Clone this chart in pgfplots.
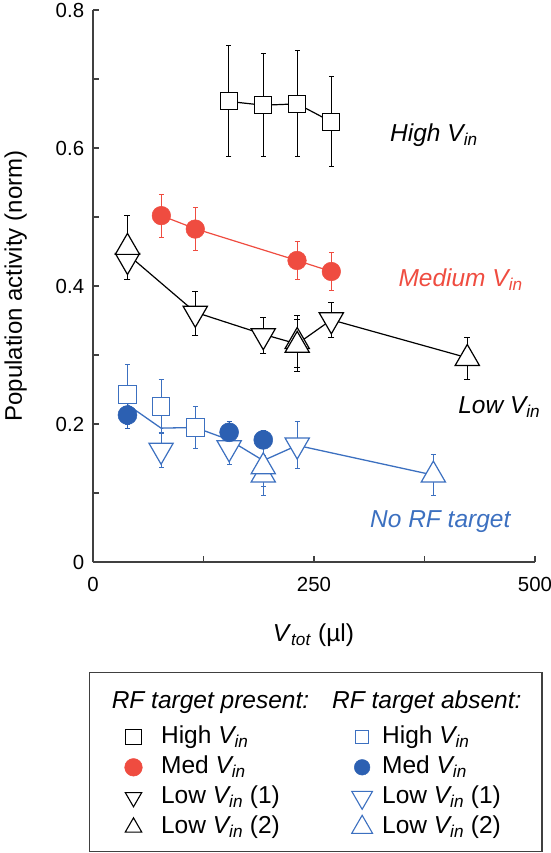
\documentclass[border=0pt]{standalone}
\usepackage{pgfplots}
\pgfplotsset{compat=1.18}
\usepackage{fontspec}
\setmainfont{Liberation Sans}
\definecolor{myred}{RGB}{239,76,64}
\definecolor{myblue}{RGB}{60,112,192}
\definecolor{myblueD}{RGB}{44,96,178}
\definecolor{axgray}{RGB}{64,64,64}
\newcommand{\Vin}{\textit{V\textsubscript{in}}}
\newcommand{\ls}{\rule[-6bp]{0pt}{24bp}}
\begin{document}
\begin{tikzpicture}
\useasboundingbox (-93bp,-291bp) rectangle (458bp,562bp);
\begin{axis}[
  scale only axis, width=442bp, height=552bp,
  at={(0,0)}, anchor=south west,
  xmin=0, xmax=500, ymin=0, ymax=0.8,
  axis x line*=bottom, axis y line*=left,
  axis line style={axgray, line width=1.3bp},
  xtick={0,250,500}, minor xtick={125,375},
  ytick={0,0.2,0.4,0.6,0.8}, minor ytick={0.1,0.3,0.5,0.7},
  tick align=inside, major tick length=6bp, minor tick length=6bp,
  tick style={axgray, line width=1.1bp},
  ticklabel style={font=\fontsize{20.4bp}{24bp}\selectfont},
  /pgf/number format/assume math mode=true,
  yticklabel style={inner sep=0pt, xshift=-8.7bp},
  xticklabel style={inner sep=0pt, yshift=-15bp},
  ylabel={Population activity (norm)},
  ylabel style={at={(axis description cs:-0.175,0.5)}, anchor=center, font=\fontsize{24bp}{29bp}\selectfont},
  xlabel={\textit{V}\textsubscript{\textit{tot}} (µl)},
  xlabel style={at={(axis description cs:0.4989,-0.1449)}, anchor=base, inner sep=0pt, font=\fontsize{24.5bp}{29bp}\selectfont},
  clip=false,
  legend columns=2,
  legend cell align=left,
  legend style={
    at={(axis description cs:-0.00905,-0.19873)}, anchor=north west,
    draw=axgray, line width=1.2bp, fill=white,
    inner xsep=33.3bp, inner ysep=12.4bp,
    font=\fontsize{24.5bp}{29bp}\selectfont,
    nodes={inner sep=0pt, text depth=},
    row sep=6bp,
    /tikz/column 1/.style={column sep=17bp},
    /tikz/column 2/.style={column sep=42.3bp},
    /tikz/column 3/.style={column sep=9.4bp},
  },
  legend image code/.code={\path (-10bp,0bp) (10bp,0bp); \draw[#1] plot coordinates {(0bp,0bp)};},
  error bars/y dir=both, error bars/y explicit,
]

% connecting lines
\addplot[black, line width=1.2bp, forget plot] coordinates {(39,0.446) (115.7,0.362) (192.6,0.330) (231,0.316) (269.6,0.351) (423.4,0.296)};
\addplot[myred, line width=1.2bp, forget plot] coordinates {(77.3,0.502) (115.7,0.483) (230.8,0.437) (269.6,0.421)};
\addplot[black, line width=1.2bp, forget plot] coordinates {(153.8,0.6675) (192.6,0.662) (231.1,0.664) (269.6,0.638)};
\addplot[myblue, line width=1.3bp, forget plot] coordinates {(39,0.228) (77,0.194) (115.7,0.195) (154,0.177) (192.6,0.147) (231,0.169) (385,0.126)};

% RF target absent (blue)
\addplot[only marks, forget plot, mark=square*, mark size=8.8bp,
  mark options={draw=myblue, fill=white, line width=1bp},
  error bars/error bar style={myblue, line width=1bp},
  error bars/error mark options={myblue, rotate=90, mark size=2.5bp, line width=1bp}]
  coordinates {(39,0.243) +- (0,0.043) (77,0.225) +- (0,0.039) (115.7,0.195) +- (0,0.031)};
\addplot[only marks, forget plot, mark=triangle*, mark size=14bp,
  mark options={rotate=180, draw=myblue, fill=white, line width=1.2bp},
  error bars/error bar style={myblue, line width=1bp},
  error bars/error mark options={myblue, rotate=90, mark size=2.5bp, line width=1bp}]
  coordinates {(77,0.162) +- (0,0.025) (154,0.1655) +- (0,0.024) (231,0.1695) +- (0,0.0335)};
\addplot[only marks, forget plot, mark=triangle*, mark size=14bp,
  mark options={draw=myblue, fill=white, line width=1.2bp},
  error bars/error bar style={myblue, line width=1bp},
  error bars/error mark options={myblue, rotate=90, mark size=2.5bp, line width=1bp}]
  coordinates {(192.6,0.126) +- (0,0.029) (192.6,0.138) +- (0,0.029) (385,0.126) +- (0,0.030)};
\addplot[only marks, forget plot, mark=*, mark size=9.5bp,
  mark options={draw=myblueD, fill=myblueD, line width=0.5bp},
  error bars/error bar style={myblueD, line width=1bp},
  error bars/error mark options={myblueD, rotate=90, mark size=2.5bp, line width=1bp}]
  coordinates {(39,0.213) +- (0,0.020) (154,0.188) +- (0,0.016) (192.6,0.177) +- (0,0.013)};

% RF target present
\addplot[only marks, forget plot, mark=*, mark size=9.3bp,
  mark options={draw=myred, fill=myred, line width=0.5bp},
  error bars/error bar style={myred, line width=0.9bp},
  error bars/error mark options={myred, rotate=90, mark size=2.5bp, line width=0.9bp}]
  coordinates {(77.3,0.502) +- (0,0.031) (115.7,0.4825) +- (0,0.0315) (230.8,0.437) +- (0,0.028) (269.6,0.421) +- (0,0.028)};
\addplot[only marks, forget plot, mark=square*, mark size=8.5bp,
  mark options={draw=black, fill=white, line width=1bp},
  error bars/error bar style={black, line width=1bp},
  error bars/error mark options={black, rotate=90, mark size=2.5bp, line width=1bp}]
  coordinates {(153.8,0.6675) +- (0,0.0805) (192.6,0.662) +- (0,0.075) (231.1,0.664) +- (0,0.077) (269.6,0.638) +- (0,0.065)};
\addplot[only marks, forget plot, mark=triangle*, mark size=14bp,
  mark options={rotate=180, draw=black, fill=white, line width=1.2bp},
  error bars/error bar style={black, line width=1bp},
  error bars/error mark options={black, rotate=90, mark size=3bp, line width=1bp}]
  coordinates {(39,0.437) +- (0,0.028) (115.7,0.3604) +- (0,0.032) (192.6,0.328) +- (0,0.026) (269.6,0.351) +- (0,0.025)};
\addplot[only marks, forget plot, mark=triangle*, mark size=14bp,
  mark options={draw=black, fill=white, line width=1.2bp},
  error bars/error bar style={black, line width=1bp},
  error bars/error mark options={black, rotate=90, mark size=3bp, line width=1bp}]
  coordinates {(39,0.456) +- (0,0.046) (231,0.3196) +- (0,0.0374) (231,0.314) +- (0,0.038) (423.4,0.295) +- (0,0.031)};

% annotations
\node[anchor=base west, inner sep=0pt, font=\fontsize{24.5bp}{29bp}\selectfont\itshape] at (axis cs:336,0.609) {High V\textsubscript{in}};
\node[anchor=base west, inner sep=0pt, text=myred, font=\fontsize{24.5bp}{29bp}\selectfont\itshape] at (axis cs:345.4,0.399) {Medium V\textsubscript{in}};
\node[anchor=base west, inner sep=0pt, font=\fontsize{24.5bp}{29bp}\selectfont\itshape] at (axis cs:413,0.2155) {Low V\textsubscript{in}};
\node[anchor=base west, inner sep=0pt, text=myblue, font=\fontsize{24.5bp}{29bp}\selectfont\itshape] at (axis cs:313.3,0.0497) {No RF target};

% legend
\addlegendimage{empty legend}
\addlegendentry{\rule[-11.3bp]{0pt}{34.6bp}\hspace*{-49.3bp}\textit{RF target present:}}
\addlegendimage{empty legend}
\addlegendentry{\rule[-11.3bp]{0pt}{34.6bp}\hspace*{-50bp}\textit{RF target absent:}\hspace*{-12.7bp}}
\addlegendimage{only marks, mark=square*, mark size=7.5bp, mark options={draw=black, fill=white, line width=1bp}}
\addlegendentry{\ls High \Vin}
\addlegendimage{only marks, mark=square*, mark size=6.5bp, mark options={draw=myblue, fill=white, line width=1bp}}
\addlegendentry{\ls High \Vin}
\addlegendimage{only marks, mark=*, mark size=8.8bp, mark options={draw=myred, fill=myred, line width=0.5bp}}
\addlegendentry{\ls Med \Vin}
\addlegendimage{only marks, mark=*, mark size=7.8bp, mark options={draw=myblueD, fill=myblueD, line width=0.5bp}}
\addlegendentry{\ls Med \Vin}
\addlegendimage{only marks, mark=triangle*, mark size=9.5bp, mark options={rotate=180, draw=black, fill=white, line width=1.1bp}}
\addlegendentry{\ls Low \Vin{} (1)}
\addlegendimage{only marks, mark=triangle*, mark size=12bp, mark options={rotate=180, draw=myblue, fill=white, line width=1.1bp}}
\addlegendentry{\ls Low \Vin{} (1)}
\addlegendimage{only marks, mark=triangle*, mark size=9.5bp, mark options={draw=black, fill=white, line width=1.1bp}}
\addlegendentry{\ls Low \Vin{} (2)}
\addlegendimage{only marks, mark=triangle*, mark size=12bp, mark options={draw=myblue, fill=white, line width=1.1bp}}
\addlegendentry{\ls Low \Vin{} (2)}
\end{axis}
\end{tikzpicture}
\end{document}
